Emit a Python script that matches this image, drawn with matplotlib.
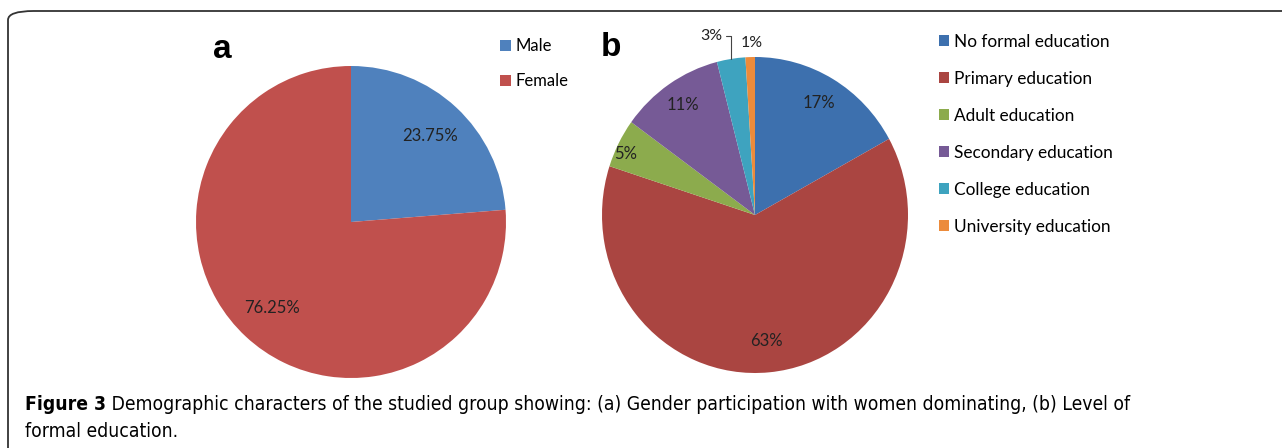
import numpy as np
import matplotlib
matplotlib.use("Agg")
import matplotlib.pyplot as plt
from matplotlib.patches import FancyBboxPatch

# ---------------------------------------------------------
# Data
# ---------------------------------------------------------
gender_labels = ["Male", "Female"]
gender_values = [23.75, 76.25]
gender_colors = ["#4F81BD", "#C0504D"]

edu_labels = ["No formal education", "Primary education", "Adult education",
              "Secondary education", "College education", "University education"]
edu_values = [17, 63, 5, 11, 3, 1]
edu_colors = ["#3D70AE", "#AA4541", "#8CAB4D", "#765A96", "#3EA3BF", "#EC8B3B"]

caption_bold = "Figure 3"
caption_line1 = (" Demographic characters of the studied group showing: (a) Gender participation "
                 "with women dominating, (b) Level of")
caption_line2 = "formal education."

W, H = 1282, 448
plt.rcParams['font.family'] = ['Lato', 'DejaVu Sans']


def px_axes(fig, left, top, width, height):
    """axes placed with pixel coords measured from the top-left corner"""
    return fig.add_axes([left / W, (H - top - height) / H, width / W, height / H])


fig = plt.figure(figsize=(W / 100, H / 100), dpi=100)

# rounded frame (right and bottom run off the picture)
frame = FancyBboxPatch((8 / W, -30 / H), 1400 / W, (H - 11 + 30) / H,
                       boxstyle="round,pad=0,rounding_size=0.02",
                       transform=fig.transFigure, fill=False,
                       edgecolor="#333333", linewidth=1.3)
fig.patches.append(frame)

# ---------------------------------------------------------
# (a) gender
# ---------------------------------------------------------
ax_a = px_axes(fig, 196, 66, 310, 312)
wedges_a, _, autotexts_a = ax_a.pie(gender_values, colors=gender_colors, startangle=90,
                                    counterclock=False, autopct=lambda p: f"{p:.2f}%",
                                    pctdistance=0.75, textprops=dict(fontsize=12, color="#222222"))
ax_a.set_aspect("auto")
ax_a.set_xlim(-1, 1)
ax_a.set_ylim(-1, 1)
fig.text(222 / W, 1 - 50 / H, "a", fontsize=24, fontweight="bold", ha="center", va="center",
         family="Liberation Sans")
fig.legend(wedges_a, gender_labels, loc="upper left", bbox_to_anchor=(492 / W, 1 - 30 / H),
           frameon=False, fontsize=12, handlelength=0.62, handleheight=0.62,
           handletextpad=0.3, labelspacing=1.12, borderpad=0)

# ---------------------------------------------------------
# (b) education
# ---------------------------------------------------------
ax_b = px_axes(fig, 602, 57, 306, 316)
wedges_b, _ = ax_b.pie(edu_values, colors=edu_colors, startangle=90, counterclock=False)
ax_b.set_aspect("auto")
ax_b.set_xlim(-1, 1)
ax_b.set_ylim(-1, 1)

# percentage labels: inside for big slices, outside for the tiny ones
inside_r = [0.82, 0.80, 0.93, 0.84]
angle_shift = [0, 0, 2.5, 0]
for i in range(4):
    w = wedges_b[i]
    mid = np.deg2rad((w.theta1 + w.theta2) / 2 + angle_shift[i])
    r = inside_r[i]
    ax_b.text(r * np.cos(mid), r * np.sin(mid), f"{edu_values[i]}%", ha="center", va="center",
              fontsize=12, color="#222222")

# college (3%) with leader line, university (1%) just above its slice
w_col = wedges_b[4]
mid = np.deg2rad((w_col.theta1 + w_col.theta2) / 2)
ax_b.annotate(f"{edu_values[4]}%", xy=(np.cos(mid), np.sin(mid)),
              xytext=(-0.215, 1.13), ha="right", va="center", fontsize=11.5, color="#222222",
              arrowprops=dict(arrowstyle="-", color="#444444", lw=0.8, shrinkA=1, shrinkB=0,
                              connectionstyle="angle,angleA=0,angleB=90,rad=0"),
              annotation_clip=False)
w_uni = wedges_b[5]
mid = np.deg2rad((w_uni.theta1 + w_uni.theta2) / 2)
ax_b.text(1.10 * np.cos(mid) + 0.015, 1.09 * np.sin(mid), f"{edu_values[5]}%", ha="center",
          va="center", fontsize=11.5, color="#222222", clip_on=False)

fig.text(611 / W, 1 - 48 / H, "b", fontsize=24, fontweight="bold", ha="center", va="center",
         family="Liberation Sans")
fig.legend(wedges_b, edu_labels, loc="upper left", bbox_to_anchor=(930 / W, 1 - 25 / H),
           frameon=False, fontsize=12.4, handlelength=0.6, handleheight=0.6,
           handletextpad=0.3, labelspacing=1.22, borderpad=0)

# ---------------------------------------------------------
# caption (condensed face, sized so the first line spans like the original)
# ---------------------------------------------------------
cap_kw = dict(family="DejaVu Sans", stretch="condensed", va="center", ha="left")
size = 14
t1 = fig.text(25 / W, 1 - 405 / H, caption_bold, fontsize=size, fontweight="bold", **cap_kw)
t2 = fig.text(0, 1 - 405 / H, caption_line1, fontsize=size, **cap_kw)
t3 = fig.text(25 / W, 1 - 431 / H, caption_line2, fontsize=size, **cap_kw)
r = fig.canvas.get_renderer()
total = t1.get_window_extent(r).width + t2.get_window_extent(r).width
size = size * 1110 / total
for t in (t1, t2, t3):
    t.set_fontsize(size)
t2.set_x(t1.get_window_extent(r).x1 / W)

fig.savefig("out.png", dpi=100)
